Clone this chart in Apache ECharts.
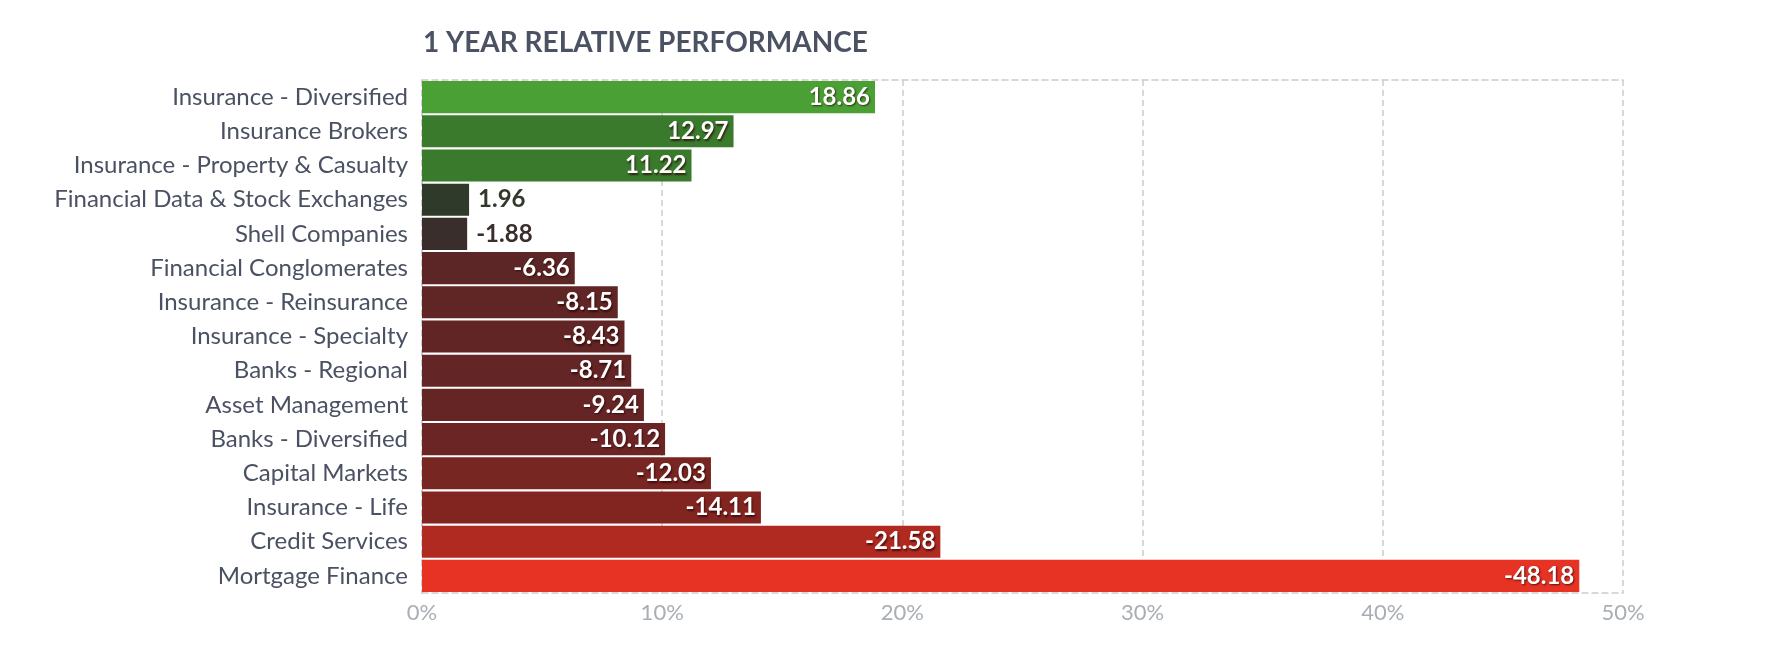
<!DOCTYPE html>
<html>
<head>
<meta charset="utf-8">
<script src="https://cdn.jsdelivr.net/npm/echarts@6/dist/echarts.min.js"></script>
<style>
html,body{margin:0;padding:0;background:#fff;}
#c{width:1786px;height:664px;}
</style>
</head>
<body>
<div id="c"></div>
<script>
const categories = [
  "Insurance - Diversified",
  "Insurance Brokers",
  "Insurance - Property & Casualty",
  "Financial Data & Stock Exchanges",
  "Shell Companies",
  "Financial Conglomerates",
  "Insurance - Reinsurance",
  "Insurance - Specialty",
  "Banks - Regional",
  "Asset Management",
  "Banks - Diversified",
  "Capital Markets",
  "Insurance - Life",
  "Credit Services",
  "Mortgage Finance"
];
const values = [18.86, 12.97, 11.22, 1.96, -1.88, -6.36, -8.15, -8.43, -8.71, -9.24, -10.12, -12.03, -14.11, -21.58, -48.18];
const barColors = ["#4aa034", "#3a7a2d", "#3a7a2d", "#2f3a2b", "#3a2e2d", "#5d2626", "#602525", "#622525", "#632525", "#652525", "#6b2524", "#772622", "#822520", "#b02a21", "#e63324"];
const xTicks = [0, 10, 20, 30, 40, 50];

const FONT = "Lato, 'Noto Sans', sans-serif";
const chart = echarts.init(document.getElementById('c'), null, {renderer: 'canvas'});

const seriesData = values.map((v, i) => {
  const small = Math.abs(v) < 3;
  return {
    value: Math.abs(v),
    raw: v,
    itemStyle: {color: barColors[i]},
    label: small ? {
      position: 'right',
      distance: 9,
      color: barColors[i],
      textShadowColor: 'transparent',
      textShadowBlur: 0,
      textShadowOffsetX: 0,
      textShadowOffsetY: 0
    } : {
      position: 'insideRight',
      distance: 5
    }
  };
});

chart.setOption({
  animation: false,
  backgroundColor: '#ffffff',
  title: {
    text: '1 YEAR RELATIVE PERFORMANCE',
    left: 423,
    top: 29,
    padding: 0,
    textStyle: {fontFamily: FONT, fontWeight: 'bold', fontSize: 28, color: '#4b5263'}
  },
  grid: {left: 422, right: 163, top: 80, bottom: 71, containLabel: false},
  xAxis: [{
    type: 'value',
    position: 'bottom',
    min: xTicks[0],
    max: xTicks[xTicks.length - 1],
    interval: 10,
    axisLine: {show: true, lineStyle: {color: '#cccccc', type: [6, 4], width: 1.5}},
    axisTick: {show: false},
    axisLabel: {formatter: '{value}%', fontFamily: FONT, fontSize: 22, color: '#a9adb5', margin: 9},
    splitLine: {show: true, lineStyle: {color: '#cccccc', type: [6, 4], width: 1.5}}
  }, {
    type: 'value',
    position: 'top',
    min: xTicks[0],
    max: xTicks[xTicks.length - 1],
    interval: 10,
    axisLine: {show: true, onZero: false, lineStyle: {color: '#cccccc', type: [6, 4], width: 1.5}},
    axisTick: {show: false},
    axisLabel: {show: false},
    splitLine: {show: false}
  }],
  yAxis: {
    type: 'category',
    inverse: true,
    data: categories,
    axisLine: {show: true, lineStyle: {color: '#cccccc', type: [6, 4], width: 1.5}},
    axisTick: {show: false},
    axisLabel: {fontFamily: FONT, fontSize: 24, color: '#4a5162', margin: 14}
  },
  series: [{
    type: 'bar',
    xAxisIndex: 0,
    data: seriesData,
    barCategoryGap: '6%',
    label: {
      show: true,
      fontFamily: FONT,
      fontWeight: 'bold',
      fontSize: 24,
      color: '#ffffff',
      textShadowColor: 'rgba(40,0,0,0.7)',
      textShadowBlur: 2,
      textShadowOffsetX: 1,
      textShadowOffsetY: 1.5,
      formatter: p => p.data.raw.toFixed(2)
    }
  }]
});
</script>
</body>
</html>
